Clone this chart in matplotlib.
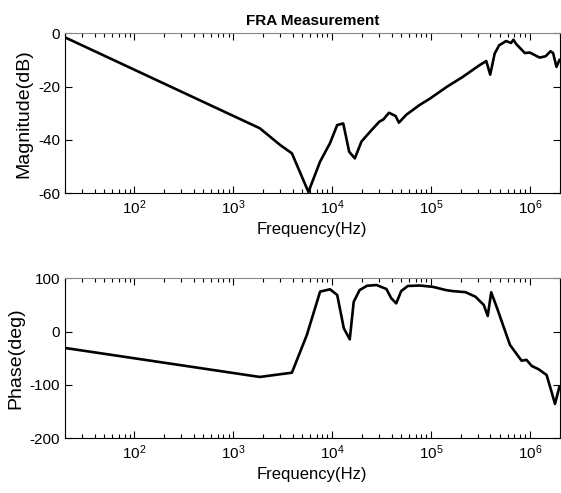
import matplotlib.pyplot as plt
import numpy as np

# log10(frequency) and magnitude (dB)
mag_logf = [1.30, 3.27, 3.477, 3.595, 3.762, 3.88, 3.98, 4.053, 4.114, 4.174, 4.231,
            4.298, 4.40, 4.48, 4.52, 4.576, 4.643, 4.677, 4.75, 4.885, 4.99, 5.16,
            5.32, 5.49, 5.56, 5.60, 5.645, 5.69, 5.76, 5.81, 5.835, 5.86, 5.95, 6.0,
            6.10, 6.16, 6.21, 6.236, 6.27, 6.30]
mag_db = [-1.5, -35.6, -41.9, -45.0, -59.5, -48.1, -41.2, -34.4, -33.8, -44.4, -46.9,
          -40.6, -36.3, -33.1, -32.3, -29.8, -31.0, -33.5, -30.6, -26.9, -24.5, -20.1,
          -16.4, -12.0, -10.4, -15.5, -7.6, -4.5, -2.9, -3.6, -2.4, -3.9, -7.4, -7.2,
          -9.1, -8.6, -6.7, -7.4, -12.6, -10.0]

# log10(frequency) and phase (deg)
ph_logf = [1.30, 3.27, 3.595, 3.746, 3.88, 3.98, 4.053, 4.12, 4.18, 4.22, 4.28,
           4.355, 4.45, 4.55, 4.60, 4.65, 4.70, 4.767, 4.885, 5.02, 5.15, 5.22,
           5.35, 5.45, 5.535, 5.575, 5.61, 5.67, 5.735, 5.80, 5.85, 5.917, 5.967,
           6.02, 6.09, 6.17, 6.22, 6.255, 6.30]
ph_deg = [-30.6, -85.0, -77.0, -6.3, 75.0, 79.4, 68.7, 6.2, -14.4, 56.0, 78.0,
          86.0, 87.4, 80.0, 62.5, 53.0, 76.0, 85.6, 86.5, 84.0, 78.0, 76.0,
          74.0, 65.6, 50.0, 29.3, 73.7, 43.8, 9.3, -25.0, -37.6, -54.5, -53.0,
          -64.4, -70.6, -81.3, -112.6, -135.7, -103.0]

plt.rcParams['font.family'] = ['Liberation Sans', 'DejaVu Sans']
plt.rcParams['axes.unicode_minus'] = False

fig = plt.figure(figsize=(5.61, 4.93), dpi=100)
ax1 = fig.add_axes([0.1159, 0.6079, 0.8815, 0.3245])
ax2 = fig.add_axes([0.1159, 0.111, 0.8815, 0.3245])


def style(ax, yticks, ylim):
    ax.set_xscale('log')
    ax.set_xlim(20, 2e6)
    ax.set_ylim(*ylim)
    ax.set_yticks(yticks)
    ax.set_xticks([1e2, 1e3, 1e4, 1e5, 1e6])
    ax.tick_params(which='both', direction='in', top=True, right=True,
                   labelsize=11, width=0.8)
    ax.tick_params(which='major', length=5)
    ax.tick_params(which='minor', length=3)
    for s in ax.spines.values():
        s.set_linewidth(0.8)
    ax.spines['top'].set_color('#888888')
    ax.set_xlabel('Frequency(Hz)', fontsize=12)


ax1.plot(10 ** np.array(mag_logf), mag_db, color='black', lw=1.9)
style(ax1, [-60, -40, -20, 0], (-60, 0))
ax1.set_ylabel('Magnitude(dB)', fontsize=14, labelpad=4)
ax1.set_title('FRA Measurement', fontsize=11, fontweight='bold', pad=6)

ax2.plot(10 ** np.array(ph_logf), ph_deg, color='black', lw=1.9)
style(ax2, [-200, -100, 0, 100], (-200, 100))
ax2.set_ylabel('Phase(deg)', fontsize=14, labelpad=4)

fig.savefig('out.png', dpi=100)
